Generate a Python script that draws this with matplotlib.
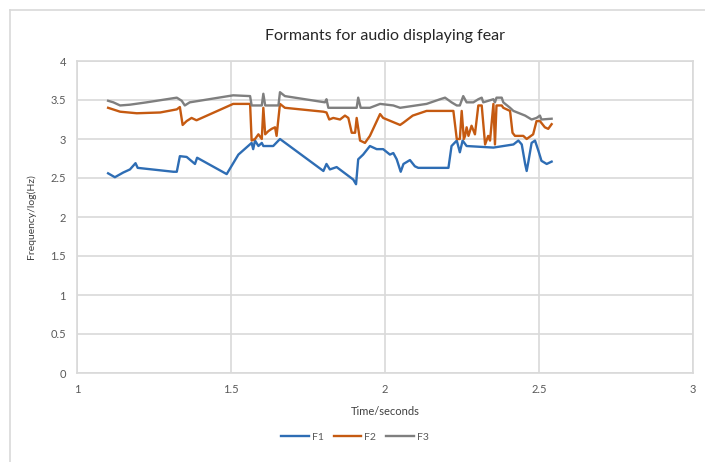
import matplotlib.pyplot as plt
from matplotlib.lines import Line2D

# Formant tracks (time in s, log frequency)
t_f1 = [1.101, 1.123, 1.150, 1.172, 1.190, 1.197, 1.313, 1.324, 1.334, 1.356, 1.383, 1.390,
        1.486, 1.524, 1.567, 1.572, 1.578, 1.589, 1.600, 1.605, 1.637, 1.659, 1.800, 1.810,
        1.821, 1.843, 1.897, 1.906, 1.913, 1.929, 1.951, 1.973, 1.994, 2.016, 2.027, 2.038,
        2.051, 2.060, 2.081, 2.097, 2.108, 2.206, 2.216, 2.233, 2.243, 2.252, 2.265, 2.352,
        2.417, 2.433, 2.444, 2.455, 2.460, 2.466, 2.476, 2.487, 2.498, 2.508, 2.525, 2.541]
f1 = [2.56, 2.51, 2.57, 2.61, 2.69, 2.63, 2.58, 2.58, 2.78, 2.77, 2.68, 2.76,
      2.55, 2.80, 2.95, 2.87, 2.98, 2.91, 2.95, 2.91, 2.91, 3.00, 2.59, 2.68,
      2.61, 2.64, 2.48, 2.42, 2.74, 2.80, 2.91, 2.87, 2.87, 2.80, 2.82, 2.74,
      2.58, 2.68, 2.73, 2.65, 2.63, 2.63, 2.91, 2.98, 2.83, 2.98, 2.91, 2.89,
      2.93, 2.98, 2.93, 2.68, 2.59, 2.72, 2.95, 2.98, 2.85, 2.72, 2.68, 2.71]

t_f2 = [1.101, 1.140, 1.194, 1.270, 1.324, 1.334, 1.343, 1.356, 1.372, 1.388, 1.507, 1.562,
        1.567, 1.578, 1.589, 1.600, 1.605, 1.611, 1.621, 1.632, 1.643, 1.648, 1.659, 1.675,
        1.800, 1.810, 1.819, 1.832, 1.854, 1.870, 1.881, 1.892, 1.903, 1.908, 1.919, 1.935,
        1.951, 1.984, 1.994, 2.049, 2.060, 2.090, 2.135, 2.222, 2.233, 2.243, 2.249, 2.256,
        2.260, 2.265, 2.271, 2.281, 2.292, 2.303, 2.314, 2.325, 2.335, 2.341, 2.352, 2.357,
        2.362, 2.379, 2.384, 2.406, 2.414, 2.422, 2.449, 2.460, 2.481, 2.492, 2.503, 2.519,
        2.530, 2.541]
f2 = [3.40, 3.35, 3.33, 3.34, 3.38, 3.41, 3.18, 3.23, 3.27, 3.24, 3.45, 3.45,
      2.98, 3.00, 3.06, 3.00, 3.40, 3.06, 3.10, 3.13, 3.15, 3.04, 3.45, 3.40,
      3.35, 3.34, 3.25, 3.27, 3.25, 3.30, 3.27, 3.08, 3.08, 3.27, 2.98, 2.95,
      3.04, 3.32, 3.27, 3.18, 3.21, 3.30, 3.36, 3.36, 3.00, 3.00, 3.36, 3.00,
      3.04, 3.15, 3.04, 3.17, 3.06, 3.43, 3.43, 2.93, 3.04, 2.98, 3.45, 2.93,
      3.43, 3.43, 3.40, 3.36, 3.08, 3.04, 3.04, 3.00, 3.06, 3.23, 3.23, 3.15,
      3.13, 3.19]

t_f3 = [1.101, 1.118, 1.140, 1.172, 1.226, 1.324, 1.340, 1.350, 1.366, 1.507, 1.562, 1.567,
        1.600, 1.605, 1.611, 1.654, 1.659, 1.675, 1.805, 1.810, 1.816, 1.908, 1.913, 1.921,
        1.951, 1.984, 2.027, 2.049, 2.135, 2.179, 2.195, 2.216, 2.233, 2.243, 2.254, 2.265,
        2.287, 2.303, 2.314, 2.319, 2.352, 2.357, 2.362, 2.379, 2.384, 2.406, 2.417, 2.455,
        2.476, 2.492, 2.503, 2.508, 2.541]
f3 = [3.49, 3.47, 3.43, 3.44, 3.47, 3.53, 3.49, 3.43, 3.47, 3.56, 3.55, 3.43,
      3.43, 3.58, 3.43, 3.43, 3.60, 3.55, 3.47, 3.51, 3.40, 3.40, 3.53, 3.40,
      3.40, 3.45, 3.43, 3.40, 3.45, 3.51, 3.53, 3.47, 3.43, 3.43, 3.55, 3.47,
      3.47, 3.51, 3.53, 3.47, 3.51, 3.47, 3.53, 3.53, 3.47, 3.40, 3.36, 3.30,
      3.25, 3.27, 3.30, 3.25, 3.26]

x_ticks = [1, 1.5, 2, 2.5, 3]
y_ticks = [0, 0.5, 1, 1.5, 2, 2.5, 3, 3.5, 4]

plt.rcParams['font.family'] = ['Lato', 'DejaVu Sans']
grid_col = '#d9d9d9'
text_col = '#595959'

fig = plt.figure(figsize=(7.05, 4.62), dpi=100)
ax = fig.add_axes([77 / 705, 1 - 373 / 462, 616 / 705, 312 / 462])

ax.plot(t_f1, f1, color='#2e6db4', lw=1.7, label='F1')
ax.plot(t_f2, f2, color='#c55a11', lw=1.7, label='F2')
ax.plot(t_f3, f3, color='#7f7f7f', lw=1.7, label='F3')

ax.set_xlim(1, 3)
ax.set_ylim(0, 4)
ax.set_xticks(x_ticks)
ax.set_xticklabels(['1', '1.5', '2', '2.5', '3'])
ax.set_yticks(y_ticks)
ax.set_yticklabels(['0', '0.5', '1', '1.5', '2', '2.5', '3', '3.5', '4'])
ax.grid(True, color=grid_col, lw=1.2)
ax.set_axisbelow(True)
ax.tick_params(length=0, labelsize=8, colors=text_col, pad=8)
for s in ax.spines.values():
    s.set_color(grid_col)
    s.set_linewidth(1.2)

ax.set_xlabel('Time/seconds', fontsize=8, color='#404040', labelpad=8)
ax.set_ylabel('Frequency/log(Hz)', fontsize=7.5, color='#404040', labelpad=10)
ax.set_title('Formants for audio displaying fear', fontsize=11.5, color='#262626', pad=15)

fig.legend(loc='center', bbox_to_anchor=(355 / 705, 1 - 437 / 462), ncol=3, frameon=False,
           fontsize=7.5, handlelength=2.6, columnspacing=1.0, handletextpad=0.3,
           labelcolor=text_col)

# outer chart frame (left and top edges visible in the reference)
fig.add_artist(Line2D([10 / 705, 10 / 705], [0, 1 - 10 / 462], color=grid_col, lw=1.2))
fig.add_artist(Line2D([10 / 705, 1], [1 - 10 / 462, 1 - 10 / 462], color=grid_col, lw=1.2))

fig.savefig('out.png', dpi=100)
